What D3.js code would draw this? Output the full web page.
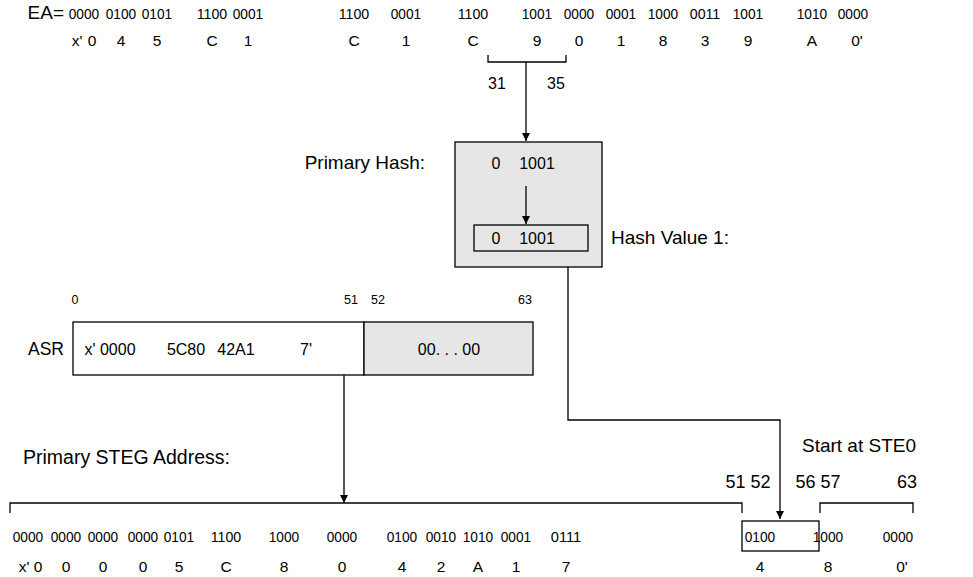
<!DOCTYPE html>
<html><head><meta charset="utf-8">
<script src="https://cdn.jsdelivr.net/npm/d3@7"></script>
<style>
html,body{margin:0;padding:0;background:#fff;}
text{font-family:"Liberation Sans",Arial,sans-serif;fill:#000;}
</style></head>
<body><div id="chart"></div>
<script>
// ---- data ----
const eaBits = ["0000","0100","0101","1100","0001","1100","0001","1100","1001","0000","0001","1000","0011","1001","1010","0000"];
const eaHex  = ["0","4","5","C","1","C","1","C","9","0","1","8","3","9","A","0'"];
const steBits = ["0000","0000","0000","0000","0101","1100","1000","0000","0100","0010","1010","0001","0111","0100","1000","0000"];
const steHex  = ["0","0","0","0","5","C","8","0","4","2","A","1","7","4","8","0'"];
const hashBits = ["0","1001"];
const hashRange = ["31","35"];
const asrFields = ["x' 0000","5C80","42A1","7'"];
const asrTail = "00. . . 00";
const asrBitLabels = ["0","51","52","63"];
const steBitLabels = ["51 52","56 57","63"];
const labels = {ea:"EA=", hash:"Primary Hash:", hv:"Hash Value 1:", asr:"ASR", steg:"Primary STEG Address:", start:"Start at STE0"};

// ---- layout scales ----
const W = 973, H = 577;
const svg = d3.select("#chart").append("svg").attr("width",W).attr("height",H);
const idx = d3.range(16);
const eaX = d3.scaleOrdinal().domain(idx).range([84,121,157,212,248,354,406,473,537,579,621,663,705,748,812,853]);
const steX = d3.scaleOrdinal().domain(idx).range([28,66,103,143,179,226,284,342,402,441,478,516,566,760,828,898]);
const hashX = d3.scaleOrdinal().domain([0,1]).range([496,537]);
const asrX = d3.scaleOrdinal().domain(d3.range(4)).range([110,186,236,306]);
const asrBitX = d3.scaleOrdinal().domain(d3.range(4)).range([75,351,378,525]);
const fsRow = 15.5, fsLab = 19, fsBox = 16, groupW = 30.5;

const defs = svg.append("defs");
defs.append("marker").attr("id","ah").attr("viewBox","0 0 10 10").attr("refX",10).attr("refY",5)
  .attr("markerWidth",8).attr("markerHeight",13).attr("markerUnits","userSpaceOnUse").attr("orient","auto")
  .append("path").attr("d","M0,0 L10,5 L0,10 z").attr("fill","#000");

function line(pts, arrow){
  const p = svg.append("path").attr("d", d3.line()(pts)).attr("fill","none").attr("stroke","#000").attr("stroke-width",1.3);
  if(arrow) p.attr("marker-end","url(#ah)");
  return p;
}
function txt(x,y,s,anchor,size){
  return svg.append("text").attr("x",x).attr("y",y).attr("text-anchor",anchor||"middle").attr("font-size",size||fsRow).text(s);
}
function groups(cls, data, xs, y){
  svg.selectAll("text."+cls).data(data).enter().append("text").attr("class",cls)
    .attr("x",(d,i)=>xs(i)).attr("y",y).attr("text-anchor","middle").attr("font-size",fsRow)
    .attr("textLength",groupW).attr("lengthAdjust","spacingAndGlyphs").text(d=>d);
}

// ---- EA rows ----
txt(64,19,labels.ea,"end",fsLab);
groups("eab", eaBits, eaX, 19);
svg.selectAll("text.eah").data(eaHex).enter().append("text").attr("class","eah")
  .attr("x",(d,i)=>eaX(i)+(i===0?8:(i===15?4:0))).attr("y",46).attr("text-anchor","middle").attr("font-size",fsRow).text(d=>d);
txt(77,46,"x'");

// bracket 31-35
line([[488,55],[488,62],[566,62],[566,55]]);
txt(497,89,hashRange[0],"middle",fsBox); txt(556,89,hashRange[1],"middle",fsBox);
line([[526,62],[526,141]],true);

// ---- hash box ----
svg.append("rect").attr("x",455).attr("y",142).attr("width",147).attr("height",125).attr("fill","#e6e6e6").attr("stroke","#000").attr("stroke-width",1.3);
txt(425,169,labels.hash,"end",fsLab);
hashBits.forEach((b,i)=>txt(hashX(i),169,b,"middle",fsBox));
line([[526,186],[526,224]],true);
svg.append("rect").attr("x",474).attr("y",225).attr("width",114).attr("height",26).attr("fill","#e6e6e6").attr("stroke","#000").attr("stroke-width",1.3);
hashBits.forEach((b,i)=>txt(hashX(i),244,b,"middle",fsBox));
txt(611,244,labels.hv,"start",fsLab);

// connector from hash box to STEG
line([[568,267],[568,420],[780,420],[780,519]],true);

// ---- ASR ----
asrBitLabels.forEach((b,i)=>txt(asrBitX(i),304,b,"middle",12.5));
svg.append("rect").attr("x",73).attr("y",322).attr("width",291).attr("height",53).attr("fill","#fff").attr("stroke","#000").attr("stroke-width",1.3);
svg.append("rect").attr("x",364).attr("y",322).attr("width",169).attr("height",53).attr("fill","#e6e6e6").attr("stroke","#000").attr("stroke-width",1.3);
txt(64,355,labels.asr,"end",17.5);
asrFields.forEach((f,i)=>txt(asrX(i),355,f,"middle",fsBox));
txt(449,355,asrTail,"middle",fsBox);
line([[344,375],[344,503]],true);

// ---- STEG ----
txt(23,464,labels.steg,"start",19.5);
txt(916,452,labels.start,"end",fsLab);
txt(748,488,steBitLabels[0],"middle",18); txt(818,488,steBitLabels[1],"middle",18); txt(907,488,steBitLabels[2],"middle",18);
line([[10,513],[10,503],[742,503],[742,513]]);
line([[820,513],[820,503],[913,503],[913,513]]);
svg.append("rect").attr("x",742).attr("y",521).attr("width",77).attr("height",30).attr("fill","none").attr("stroke","#000").attr("stroke-width",1.3);
groups("sb", steBits, steX, 542);
svg.selectAll("text.sh").data(steHex).enter().append("text").attr("class","sh")
  .attr("x",(d,i)=>steX(i)+(i===0?10:(i===15?4:0))).attr("y",572).attr("text-anchor","middle").attr("font-size",fsRow).text(d=>d);
txt(24,572,"x'");
</script></body></html>
